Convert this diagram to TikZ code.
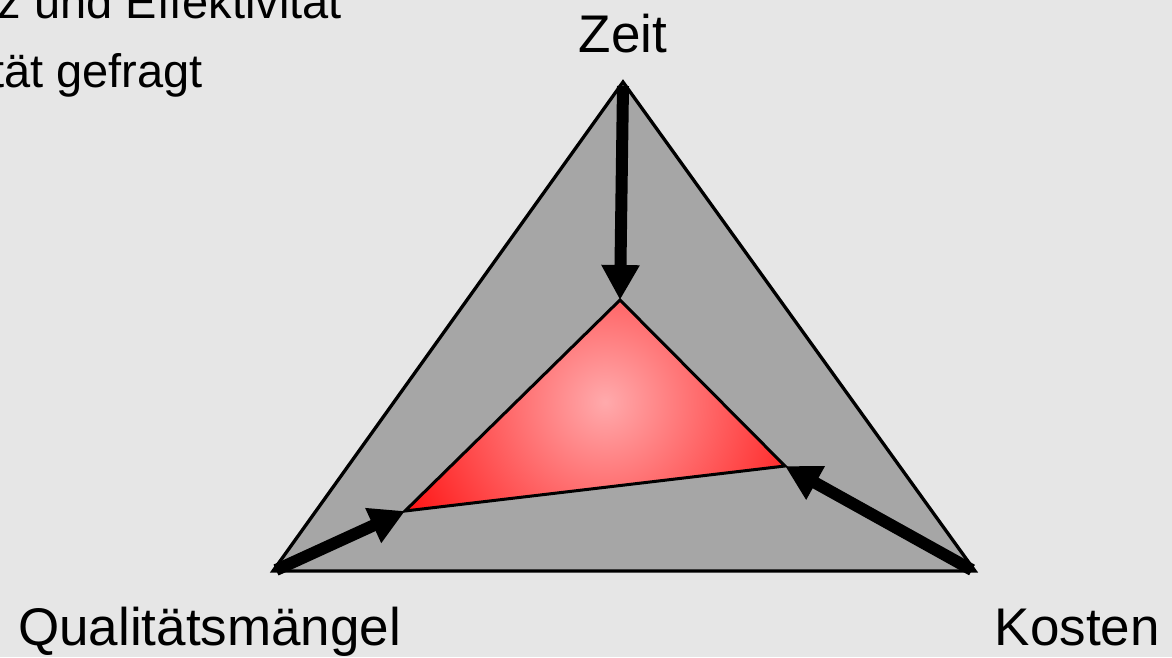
\documentclass[tikz,border=0pt]{standalone}
\usepackage{fontspec}
\setmainfont{Liberation Sans}
\usetikzlibrary{arrows.meta}
\definecolor{bg}{RGB}{230,230,230}
\definecolor{outergray}{RGB}{166,166,166}
\definecolor{redc}{RGB}{255,18,18}
\definecolor{pinkc}{RGB}{255,170,172}
\tikzset{
  bigarrow/.style={line width=12pt,-{Triangle[length=35pt,width=36pt]}},
  biglabel/.style={font=\fontsize{53}{60}\selectfont,inner sep=0pt},
  toplabel/.style={font=\fontsize{47}{56}\selectfont,inner sep=0pt}
}
\begin{document}
\begin{tikzpicture}[x=1pt,y=-1pt]
\fill[bg] (0,0) rectangle (1172,657);
\useasboundingbox (0,0) rectangle (1172,657);
% outer triangle
\coordinate (T) at (623,82);
\coordinate (L) at (273,571);
\coordinate (R) at (975,571);
\filldraw[fill=outergray,draw=black,line width=3.3pt,line join=miter] (T) -- (L) -- (R) -- cycle;
% inner triangle
\coordinate (iT) at (620,300);
\coordinate (iL) at (405,511);
\coordinate (iR) at (785,466);
\fill[redc] (iT) -- (iL) -- (iR) -- cycle;
\begin{scope}
\clip (iT) -- (iL) -- (iR) -- cycle;
\shade[inner color=pinkc,outer color=redc] (605,402) circle (230);
\end{scope}
\draw[line width=3pt,line join=miter] (iT) -- (iL) -- (iR) -- cycle;
% arrows
\coordinate (aT) at (623,86);
\coordinate (aL) at (276,570);
\coordinate (aR) at (972,570);
\draw[bigarrow] (aT) -- (iT);
\draw[bigarrow] (aL) -- (iL);
\draw[bigarrow] (aR) -- (iR);
% labels
\node[biglabel,anchor=base] (zeit) at (623,52) {Zeit};
\node[biglabel,anchor=base west] (qual) at (18,645) {Qualitätsmängel};
\node[biglabel,anchor=base east] (kosten) at (1160,645) {Kosten};
\node[toplabel,anchor=base east] (line1) at (342,18) {z und Effektivität};
\node[toplabel,anchor=base east] (line2) at (203,87) {tät gefragt};
\end{tikzpicture}
\end{document}
